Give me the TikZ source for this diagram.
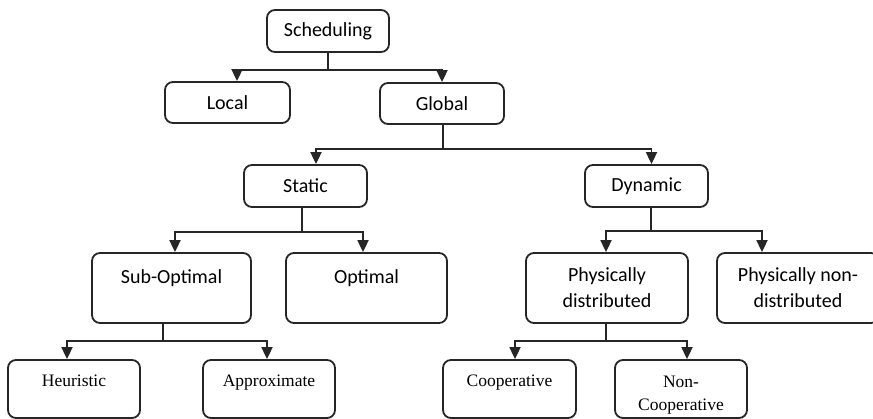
\documentclass[tikz,border=0pt]{standalone}
\usepackage{fontspec}
\setmainfont{Liberation Serif}
\newfontfamily\boxsans{Carlito}
\usetikzlibrary{arrows.meta,calc}
\tikzset{
  box/.style={draw=black!85, line width=1.8pt, rounded corners=8pt, inner sep=0pt,
    align=center, font=\boxsans\fontsize{20}{26}\selectfont},
  leaf/.style={box, font=\fontsize{17.5}{23}\selectfont},
  conn/.style={draw=black!85, line width=1.8pt},
  arr/.style={conn, -{Triangle[width=11pt,length=12pt]}},
}
\begin{document}
\begin{tikzpicture}[x=1pt,y=-1pt]
\useasboundingbox (0,0) rectangle (873,419);
% level 0
\node[box, minimum width=122pt, minimum height=42pt] (sched) at (328,31) {Scheduling};
% level 1
\node[box, minimum width=125pt, minimum height=41pt] (local) at (227.5,102.5) {Local};
\node[box, minimum width=124pt, minimum height=41pt] (global) at (442,103.5) {Global};
% level 2
\node[box, minimum width=123pt, minimum height=42pt] (static) at (305.5,186) {Static};
\node[box, minimum width=123pt, minimum height=42pt] (dynamic) at (646.5,186) {Dynamic};
% level 3
\node[box, minimum width=159pt, minimum height=70pt, text height=14pt, text depth=22pt] (subopt) at (171.5,288) {Sub-Optimal};
\node[box, minimum width=161pt, minimum height=70pt, text height=14pt, text depth=22pt] (optimal) at (366.5,288) {Optimal};
\node[box, minimum width=162pt, minimum height=70pt] (physdist) at (607,288) {Physically\\distributed};
\node[box, minimum width=162pt, minimum height=70pt] (physnon) at (798,288) {Physically non-\\distributed};
% level 4
\node[leaf, minimum width=132pt, minimum height=58pt, text height=12pt, text depth=16pt] (heur) at (74,389) {Heuristic};
\node[leaf, minimum width=132pt, minimum height=58pt, text height=12pt, text depth=16pt] (approx) at (269,389) {Approximate};
\node[leaf, minimum width=133pt, minimum height=58pt, text height=12pt, text depth=16pt] (coop) at (509.5,389) {Cooperative};
\node[leaf, minimum width=132pt, minimum height=58pt, text height=44pt, text depth=2pt] (noncoop) at (681,389) {Non-\\Cooperative};
% junctions
\coordinate (j0) at ($(sched.south)+(0,17)$);
\coordinate (j1) at ($(global.south)+(1,24)$);
\coordinate (j2) at ($(static.south)+(-3.5,24)$);
\coordinate (j3) at ($(dynamic.south)+(4.5,23)$);
\coordinate (j4) at ($(subopt.south)+(-8.5,17)$);
\coordinate (j5) at ($(physdist.south)+(-1,17)$);
% connectors
\draw[conn] (sched.south -| j0) -- (j0);
\draw[arr] (j0) -| ([xshift=9.5pt]local.north);
\draw[arr] (j0) -| (global.north);
\draw[conn] (global.south -| j1) -- (j1);
\draw[arr] (j1) -| ([xshift=10.5pt]static.north);
\draw[arr] (j1) -| ([xshift=5pt]dynamic.north);
\draw[conn] (static.south -| j2) -- (j2);
\draw[arr] (j2) -| ([xshift=3.5pt]subopt.north);
\draw[arr] (j2) -| ([xshift=-3.5pt]optimal.north);
\draw[conn] (dynamic.south -| j3) -- (j3);
\draw[arr] (j3) -| ([xshift=-1pt]physdist.north);
\draw[arr] (j3) -| ([xshift=-36pt]physnon.north);
\draw[conn] (subopt.south -| j4) -- (j4);
\draw[arr] (j4) -| ([xshift=-7pt]heur.north);
\draw[arr] (j4) -| ([xshift=-2pt]approx.north);
\draw[conn] (physdist.south -| j5) -- (j5);
\draw[arr] (j5) -| ([xshift=5.5pt]coop.north);
\draw[arr] (j5) -| ([xshift=6pt]noncoop.north);
\end{tikzpicture}
\end{document}
